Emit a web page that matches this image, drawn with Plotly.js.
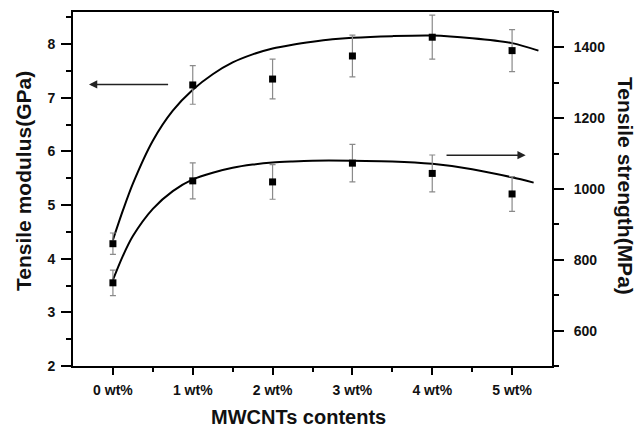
<!DOCTYPE html>
<html>
<head>
<meta charset="utf-8">
<script src="https://cdn.plot.ly/plotly-3.0.1.min.js"></script>
<style>html,body{margin:0;padding:0;background:#fff;}#chart{width:637px;height:429px;}</style>
</head>
<body>
<div id="chart"></div>
<script>
// Categories (MWCNTs content) and their numeric positions
const categories = ['0 wt%', '1 wt%', '2 wt%', '3 wt%', '4 wt%', '5 wt%'];
const xPositions = [0, 1, 2, 3, 4, 5];

// Tensile modulus (GPa), left axis
const modulus = [4.28, 7.24, 7.35, 7.78, 8.13, 7.88];
const modulusErr = [0.20, 0.36, 0.37, 0.39, 0.41, 0.39];

// Tensile strength (MPa), right axis
const strength = [735, 1023, 1020, 1073, 1044, 986];
const strengthErr = [36, 51, 49, 53, 52, 49];

// Fitted curves
const modulusFitX = [0, 0.125, 0.25, 0.5, 0.75, 1.0, 1.25, 1.5, 1.75, 2.0, 2.25, 2.5, 2.75, 3.0, 3.5, 4.0, 4.5, 5.0, 5.33];
const modulusFitY = [4.35, 4.90, 5.40, 6.20, 6.76, 7.15, 7.44, 7.66, 7.81, 7.92, 7.99, 8.045, 8.09, 8.12, 8.15, 8.16, 8.11, 8.02, 7.88];
const strengthFitX = [0, 0.125, 0.25, 0.5, 0.75, 1.0, 1.25, 1.5, 1.75, 2.0, 2.25, 2.5, 3.0, 3.5, 4.0, 4.5, 5.0, 5.27];
const strengthFitY = [743, 811, 867, 944, 994, 1027, 1046, 1060, 1069, 1075, 1078, 1080, 1080, 1078, 1071, 1056, 1033, 1018];

const FONT = 'Liberation Sans, Arial, Helvetica, sans-serif';
const tickFont = {family: FONT, size: 14, weight: 'bold', color: '#111'};

const traces = [
  {x: modulusFitX, y: modulusFitY, mode: 'lines', line: {color: '#000', width: 2, shape: 'spline', smoothing: 0.8}, yaxis: 'y', hoverinfo: 'skip'},
  {x: strengthFitX, y: strengthFitY, mode: 'lines', line: {color: '#000', width: 2, shape: 'spline', smoothing: 0.8}, yaxis: 'y2', hoverinfo: 'skip'},
  {x: xPositions, y: modulus, mode: 'markers', yaxis: 'y',
   marker: {symbol: 'square', size: 7, color: '#000'},
   error_y: {type: 'data', array: modulusErr, visible: true, color: '#8a8a8a', thickness: 1.2, width: 3}},
  {x: xPositions, y: strength, mode: 'markers', yaxis: 'y2',
   marker: {symbol: 'square', size: 7, color: '#000'},
   error_y: {type: 'data', array: strengthErr, visible: true, color: '#8a8a8a', thickness: 1.2, width: 3}}
];

const axisCommon = {
  showgrid: false, zeroline: false, showline: true, linewidth: 2, linecolor: '#000',
  ticks: 'outside', tickwidth: 2, tickcolor: '#000', tickfont: tickFont
};

const layout = {
  width: 637, height: 429,
  margin: {l: 73, r: 85, t: 12, b: 63, pad: 0},
  paper_bgcolor: '#fff', plot_bgcolor: '#fff',
  showlegend: false,
  xaxis: Object.assign({}, axisCommon, {
    range: [-0.5, 5.5], tickmode: 'array', tickvals: xPositions, ticktext: categories,
    ticklen: 7, mirror: true, ticklabelstandoff: 3,
    minor: {tickmode: 'array', tickvals: [0.5, 1.5, 2.5, 3.5, 4.5], ticks: 'outside', ticklen: 4, tickwidth: 2, tickcolor: '#000'}
  }),
  yaxis: Object.assign({}, axisCommon, {
    range: [2, 8.6], tick0: 0, dtick: 1, ticklen: 10, ticklabelstandoff: 3,
    minor: {dtick: 0.5, ticks: 'outside', ticklen: 5, tickwidth: 2, tickcolor: '#000'}
  }),
  yaxis2: Object.assign({}, axisCommon, {
    overlaying: 'y', side: 'right', range: [500, 1500], tick0: 0, dtick: 200, ticklen: 10, ticklabelstandoff: 7,
    minor: {dtick: 100, ticks: 'outside', ticklen: 5, tickwidth: 2, tickcolor: '#000'}
  }),
  annotations: [
    {xref: 'paper', yref: 'paper', x: (298 - 73) / 479, y: (366 - 417) / 354, text: 'MWCNTs contents', showarrow: false,
     font: {family: FONT, size: 20, weight: 'bold', color: '#111'}, xanchor: 'center', yanchor: 'middle'},
    {xref: 'paper', yref: 'paper', x: (23 - 73) / 479, y: (366 - 181) / 354, text: 'Tensile modulus(GPa)', showarrow: false, textangle: -90,
     font: {family: FONT, size: 21, weight: 'bold', color: '#111'}, xanchor: 'center', yanchor: 'middle'},
    {xref: 'paper', yref: 'paper', x: (626 - 73) / 479, y: (366 - 186) / 354, text: 'Tensile strength(MPa)', showarrow: false, textangle: 90,
     font: {family: FONT, size: 21, weight: 'bold', color: '#111'}, xanchor: 'center', yanchor: 'middle'},
    {xref: 'x', yref: 'y', axref: 'x', ayref: 'y', x: -0.30, y: 7.25, ax: 0.71, ay: 7.25, text: '',
     showarrow: true, arrowhead: 2, arrowsize: 1.1, arrowwidth: 1.5, arrowcolor: '#222'},
    {xref: 'x', yref: 'y', axref: 'x', ayref: 'y', x: 5.17, y: 5.93, ax: 4.16, ay: 5.93, text: '',
     showarrow: true, arrowhead: 2, arrowsize: 1.1, arrowwidth: 1.5, arrowcolor: '#222'}
  ]
};

Plotly.newPlot('chart', traces, layout, {staticPlot: true, displayModeBar: false});
</script>
</body>
</html>
